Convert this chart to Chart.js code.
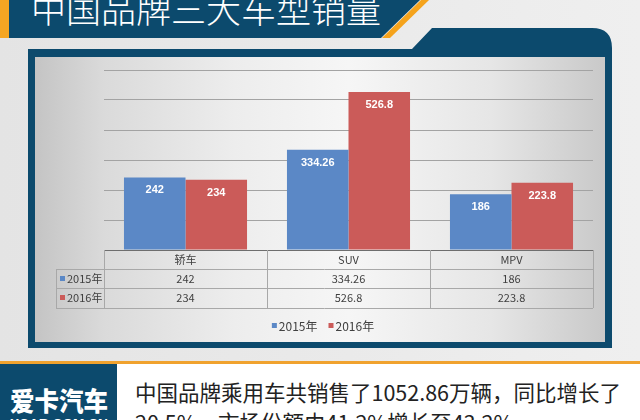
<!DOCTYPE html>
<html>
<head>
<meta charset="utf-8">
<script src="https://cdn.jsdelivr.net/npm/chart.js@4.4.1/dist/chart.umd.min.js"></script>
<style>
  html, body { margin: 0; padding: 0; }
  body { width: 640px; height: 420px; overflow: hidden; position: relative; background: #e9e9e9; }
  #deco { position: absolute; left: 0; top: 0; }
  #box {
    position: absolute; left: 35px; top: 57px; width: 570px; height: 285px;
    background: linear-gradient(90deg, #c4c4c4 0%, #dadada 12%, #ededed 35%, #f6f6f6 55%, #e6e6e6 80%, #c9c9c9 100%);
  }
</style>
</head>
<body>
<svg id="deco" width="640" height="420">
  <defs>
    <linearGradient id="bg" x1="0" x2="1" y1="0" y2="0">
      <stop offset="0" stop-color="#e4e4e4"/>
      <stop offset="1" stop-color="#efefef"/>
    </linearGradient>
  </defs>
  <rect x="0" y="0" width="640" height="420" fill="url(#bg)"/>
  <!-- title banner -->
  <polygon points="0,0 420,0 381,38 0,38" fill="#0c4a6d"/>
  <rect x="0" y="0" width="9" height="38" fill="#f5a623"/>
  <polygon points="421,0 429,0 390,38 382,38" fill="#f5a31c"/>
  <text x="31" y="23" fill="#ffffff" font-family="Noto Sans CJK SC" font-weight="300" font-size="35">中国品牌三大车型销量</text>
  <!-- chart frame -->
  <path d="M28,49 L412,49 L432,28 L592,28 Q612,28 612,48 L612,348 L28,348 Z" fill="#0c4a6d"/>
  <!-- bottom strip -->
  <rect x="0" y="361" width="640" height="3" fill="#f0a22e"/>
  <rect x="117" y="364" width="523" height="56" fill="#ffffff"/>
  <rect x="0" y="364" width="117" height="56" fill="#0c4a6d"/>
  <text x="10" y="411" fill="#ffffff" font-family="Noto Sans CJK SC" font-weight="900" font-size="26" textLength="98" lengthAdjust="spacingAndGlyphs">爱卡汽车</text>
  <text x="10" y="428" fill="#ffffff" font-family="Liberation Sans" font-weight="bold" font-size="13" textLength="98" lengthAdjust="spacingAndGlyphs">XCAR.COM.CN</text>
  <text x="135" y="401" fill="#222222" font-family="Noto Sans CJK SC" font-size="21.5" textLength="486" lengthAdjust="spacingAndGlyphs">中国品牌乘用车共销售了1052.86万辆，同比增长了</text>
  <text x="135" y="431" fill="#222222" font-family="Noto Sans CJK SC" font-size="21.5">20.5%，市场份额由41.2%增长至43.2%</text>
</svg>
<div id="box"><canvas id="c" width="570" height="285"></canvas></div>
<script>
const categories = ['轿车', 'SUV', 'MPV'];
const years = ['2015年', '2016年'];
const sales2015 = [242, 334.26, 186];
const sales2016 = [234, 526.8, 223.8];
const yMax = 600;
const yStep = 100;

const numFont = '"Liberation Sans Narrow", "Liberation Sans", "Noto Sans CJK SC", sans-serif';
const tableFont = '"Noto Sans CJK SC", sans-serif';
const textColor = '#404040';
const lineColor = '#a8a8a8';

// white value labels just inside the top of each bar
const barLabels = {
    id: 'barLabels',
    afterDatasetsDraw(chart) {
        let ctx = chart.ctx;
        ctx.save();
        ctx.font = 'bold 11px ' + numFont;
        ctx.fillStyle = '#ffffff';
        ctx.textAlign = 'center';
        ctx.textBaseline = 'middle';
        chart.data.datasets.forEach((ds, i) => {
            chart.getDatasetMeta(i).data.forEach((bar, j) => {
                ctx.fillText(String(ds.data[j]), bar.x, bar.y + 13);
            });
        });
        ctx.restore();
    }
};

// excel style data table under the axis, plus the legend
const dataTable = {
    id: 'dataTable',
    afterDraw(chart) {
        let ctx = chart.ctx;
        let a = chart.chartArea;
        let xs = chart.scales.x;
        let colW = (a.right - a.left) / categories.length;
        let r0 = a.bottom, r1 = r0 + 19, r2 = r1 + 19, r3 = r2 + 20;
        let labelLeft = a.left - 48;
        ctx.save();
        ctx.strokeStyle = lineColor;
        ctx.lineWidth = 1;
        ctx.beginPath();
        [r1, r2, r3].forEach(y => {
            ctx.moveTo(labelLeft, y + 0.5);
            ctx.lineTo(a.right, y + 0.5);
        });
        for (let k = 0; k <= categories.length; k++) {
            let x = Math.round(a.left + colW * k) + 0.5;
            ctx.moveTo(x, r0);
            ctx.lineTo(x, r3);
        }
        ctx.moveTo(labelLeft + 0.5, r1);
        ctx.lineTo(labelLeft + 0.5, r3);
        ctx.stroke();

        ctx.fillStyle = textColor;
        ctx.textBaseline = 'middle';
        ctx.textAlign = 'center';
        ctx.font = '11px ' + tableFont;
        categories.forEach((c, i) => {
            let cx = xs.getPixelForValue(i);
            ctx.fillText(c, cx, r0 + 10);
            ctx.fillText(String(chart.data.datasets[0].data[i]), cx, r1 + 10);
            ctx.fillText(String(chart.data.datasets[1].data[i]), cx, r2 + 10);
        });
        ctx.textAlign = 'left';
        [r1, r2].forEach((ry, i) => {
            let ds = chart.data.datasets[i];
            ctx.fillStyle = ds.backgroundColor;
            ctx.fillRect(labelLeft + 4, ry + 7, 5, 5);
            ctx.fillStyle = textColor;
            ctx.fillText(ds.label, labelLeft + 11, ry + 10);
        });

        // legend
        ctx.font = '12px ' + tableFont;
        let items = chart.data.datasets.map(ds => ({ ds: ds, w: ctx.measureText(ds.label).width }));
        let total = items.reduce((s, it) => s + 7 + it.w, 0) + 11 * (items.length - 1);
        let x = chart.width / 2 + 3 - total / 2;
        let ly = r3 + 17;
        items.forEach(it => {
            ctx.fillStyle = it.ds.backgroundColor;
            ctx.fillRect(x, ly - 2, 5, 5);
            ctx.fillStyle = textColor;
            ctx.fillText(it.ds.label, x + 7, ly + 1);
            x += 7 + it.w + 11;
        });
        ctx.restore();
    }
};

let chart = new Chart(document.getElementById('c'), {
    type: 'bar',
    data: {
        labels: categories,
        datasets: [
            { label: years[0], data: sales2015, backgroundColor: '#5b88c6' },
            { label: years[1], data: sales2016, backgroundColor: '#cb5b59' }
        ]
    },
    options: {
        responsive: false,
        animation: false,
        datasets: { bar: { categoryPercentage: 0.755, barPercentage: 1.0, borderWidth: 0 } },
        layout: { padding: { left: 69, right: 12, top: 13, bottom: 92 } },
        plugins: { legend: { display: false }, tooltip: { enabled: false } },
        scales: {
            x: {
                grid: { display: false },
                border: { display: true, color: '#6e6e6e', width: 1 },
                ticks: { display: false },
                afterFit: s => { s.height = 0; }
            },
            y: {
                min: 0,
                max: yMax,
                ticks: { display: false, stepSize: yStep },
                grid: { color: ctx => ctx.tick.value === 0 ? 'rgba(0,0,0,0)' : '#a3a3a3', drawTicks: false },
                border: { display: false },
                afterFit: s => { s.width = 0; }
            }
        }
    },
    plugins: [barLabels, dataTable]
});
</script>
</body>
</html>
